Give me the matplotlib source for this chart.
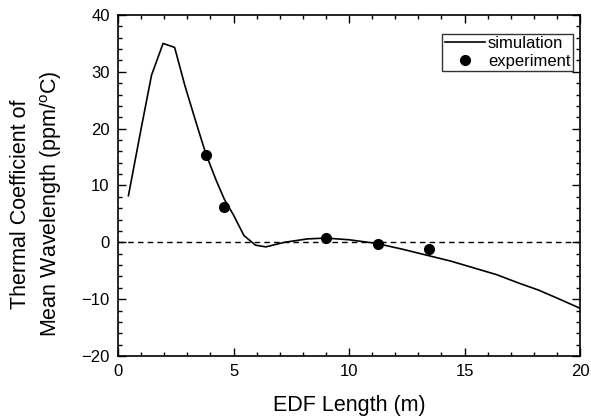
import numpy as np
import matplotlib
matplotlib.use("Agg")
import matplotlib.pyplot as plt
from matplotlib.ticker import MultipleLocator

plt.rcParams.update({"font.family": ["Liberation Sans", "DejaVu Sans"], "font.size": 12,
                     "mathtext.fontset": "custom", "mathtext.rm": "Liberation Sans"})

# simulation curve
sim_x = [0.45, 1.0, 1.45, 1.95, 2.45, 2.9, 3.4, 3.8, 4.25, 4.6, 5.0, 5.45, 5.95,
         6.4, 7.2, 8.2, 9.0, 10.0, 11.2, 12.3, 13.4, 14.4, 15.4, 16.4, 17.3, 18.2, 19.0, 20.0]
sim_y = [8.2, 20.0, 29.4, 35.0, 34.3, 27.5, 20.8, 15.6, 10.9, 7.6, 4.8, 1.2, -0.5,
         -0.8, 0.0, 0.6, 0.75, 0.45, -0.2, -1.2, -2.3, -3.3, -4.5, -5.7, -7.1, -8.4, -9.8, -11.6]

# experiment points
exp_x = [3.8, 4.6, 9.0, 11.25, 13.45]
exp_y = [15.3, 6.3, 0.75, -0.3, -1.2]

fig = plt.figure(figsize=(5.91, 4.19), dpi=100)
ax = fig.add_axes([0.1997, 0.1504, 0.7817, 0.8138])

ax.plot(sim_x, sim_y, color="black", lw=1.2, label="simulation")
ax.plot(exp_x, exp_y, "o", color="black", ms=7, label="experiment")
ax.axhline(0, color="black", ls=(0, (4, 3)), lw=1)

ax.set_xlim(0, 20)
ax.set_ylim(-20, 40)
ax.xaxis.set_major_locator(MultipleLocator(5))
ax.xaxis.set_minor_locator(MultipleLocator(1))
ax.yaxis.set_major_locator(MultipleLocator(10))
ax.yaxis.set_minor_locator(MultipleLocator(2))
ax.tick_params(which="both", direction="in", top=True, right=True, labelsize=12, width=1)
ax.tick_params(which="major", length=6, pad=6)
ax.tick_params(which="minor", length=3)
for s in ax.spines.values():
    s.set_linewidth(1.2)

ax.set_xlabel("EDF Length (m)", fontsize=15.5)
ax.xaxis.set_label_coords(0.5, -0.115)
ax.set_ylabel("Thermal Coefficient of\nMean Wavelength (ppm/$^{\\mathrm{o}}$C)", fontsize=15.5,
              linespacing=1.35)
ax.yaxis.set_label_coords(-0.118, 0.446)

leg = ax.legend(loc="upper right", bbox_to_anchor=(0.985, 0.945), frameon=True, fancybox=False,
                edgecolor="black", fontsize=12, handlelength=2.4, handletextpad=0.2,
                borderpad=0.15, labelspacing=0.15, borderaxespad=0)
leg.get_frame().set_linewidth(1)

fig.savefig("out.png", dpi=100)
